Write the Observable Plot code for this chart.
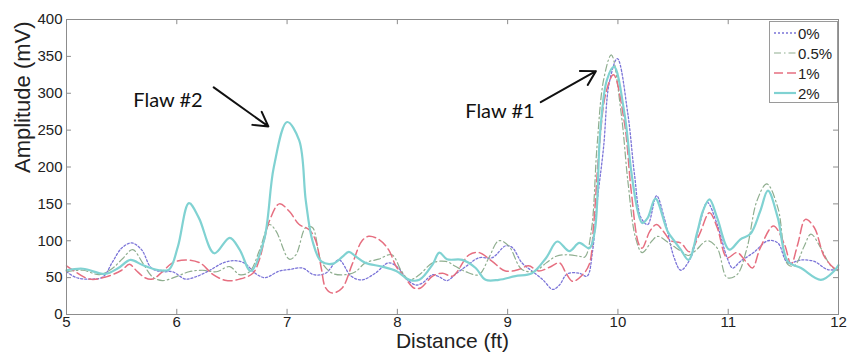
<!DOCTYPE html>
<html>
<head>
<meta charset="utf-8">
<script src="https://cdn.jsdelivr.net/npm/d3@7"></script>
<script src="https://cdn.jsdelivr.net/npm/@observablehq/plot@0.6"></script>
<style>
  html, body { margin: 0; padding: 0; background: #fff; }
  #wrap { position: relative; width: 853px; height: 358px; overflow: hidden; }
  #legend { position: absolute; left: 769px; top: 21px; width: 69px; height: 82px; box-sizing: border-box;
    border: 1px solid #9a9a9a; background: #fff; font-family: "Liberation Sans", Arial, sans-serif; font-size: 15px; color: #222; }
  #legend .row { position: absolute; left: 3px; height: 20px; display: flex; align-items: center; }
  #legend svg { display: block; }
</style>
</head>
<body>
<div id="wrap"><div id="legend"></div></div>
<script>
// ---- data (distance ft, amplitude mV) ----
const xTicks = [5, 6, 7, 8, 9, 10, 11, 12];
const yTicks = [0, 50, 100, 150, 200, 250, 300, 350, 400];
const seriesNames = ["0%", "0.5%", "1%", "2%"];

const s0 = [[5.0,58],[5.09,50],[5.21,48],[5.33,51],[5.42,72],[5.5,90],[5.59,97],[5.68,88],[5.77,63],[5.87,58],[5.96,58],[6.08,48],[6.17,51],[6.3,60],[6.42,70],[6.51,73],[6.61,70],[6.72,55],[6.8,50],[6.93,59],[7.02,61],[7.14,63],[7.24,54],[7.35,56],[7.47,74],[7.58,52],[7.68,47],[7.8,56],[7.92,70],[8.01,63],[8.09,47],[8.17,40],[8.23,43],[8.32,54],[8.38,51],[8.45,46],[8.53,55],[8.62,65],[8.74,77],[8.86,77],[8.98,93],[9.04,91],[9.13,70],[9.22,59],[9.32,47],[9.41,34],[9.47,40],[9.54,55],[9.65,56],[9.72,52],[9.77,86],[9.81,150],[9.87,227],[9.92,313],[9.995,347],[10.09,272],[10.15,190],[10.21,131],[10.27,122],[10.35,161],[10.42,131],[10.51,77],[10.57,60],[10.66,77],[10.74,122],[10.81,152],[10.9,122],[10.99,77],[11.04,63],[11.11,72],[11.23,84],[11.36,100],[11.45,97],[11.54,70],[11.66,74],[11.78,72],[11.9,61],[12.0,61]];

const s05 = [[5.0,58],[5.15,60],[5.3,54],[5.42,63],[5.51,76],[5.6,88],[5.69,70],[5.78,51],[5.87,46],[5.99,51],[6.11,58],[6.23,60],[6.36,58],[6.48,65],[6.57,54],[6.66,58],[6.75,87],[6.84,122],[6.9,113],[7.02,75],[7.08,81],[7.17,118],[7.23,118],[7.31,72],[7.41,56],[7.53,54],[7.62,58],[7.71,70],[7.83,75],[7.95,81],[8.04,58],[8.11,47],[8.2,54],[8.32,70],[8.44,72],[8.53,65],[8.62,58],[8.74,54],[8.83,77],[8.92,100],[9.01,93],[9.13,61],[9.25,59],[9.35,70],[9.44,79],[9.53,81],[9.65,79],[9.7,78],[9.76,115],[9.81,227],[9.87,318],[9.94,352],[10.03,272],[10.09,181],[10.16,104],[10.22,84],[10.31,100],[10.36,106],[10.48,95],[10.57,86],[10.64,80],[10.7,86],[10.81,100],[10.9,90],[10.99,50],[11.08,54],[11.17,90],[11.26,154],[11.35,177],[11.45,145],[11.54,68],[11.6,66],[11.69,93],[11.75,109],[11.84,90],[11.93,66],[12.0,59]];

const s1 = [[5.0,66],[5.06,60],[5.21,48],[5.36,51],[5.5,60],[5.57,68],[5.63,60],[5.71,50],[5.78,48],[5.87,58],[5.96,70],[6.08,74],[6.21,70],[6.33,54],[6.45,46],[6.57,48],[6.69,56],[6.75,75],[6.84,127],[6.93,150],[7.02,140],[7.11,122],[7.2,115],[7.26,100],[7.31,63],[7.35,36],[7.41,29],[7.5,36],[7.59,68],[7.68,100],[7.74,106],[7.83,102],[7.92,88],[7.99,65],[8.06,52],[8.15,36],[8.21,36],[8.32,52],[8.41,56],[8.5,52],[8.65,81],[8.74,84],[8.86,72],[8.98,59],[9.1,61],[9.19,66],[9.28,59],[9.38,64],[9.47,70],[9.53,56],[9.59,45],[9.68,54],[9.74,68],[9.78,122],[9.83,225],[9.89,300],[9.96,325],[10.06,259],[10.12,168],[10.19,95],[10.22,90],[10.29,113],[10.35,122],[10.41,113],[10.48,100],[10.57,97],[10.65,85],[10.74,109],[10.83,138],[10.9,118],[10.99,77],[11.08,84],[11.17,70],[11.22,63],[11.29,90],[11.41,120],[11.51,95],[11.57,68],[11.63,95],[11.7,129],[11.78,118],[11.87,79],[11.96,63],[12.0,61]];

const s2 = [[5.0,60],[5.15,62],[5.35,55],[5.47,63],[5.58,74],[5.69,67],[5.84,60],[5.93,61],[6.01,92],[6.11,151],[6.2,131],[6.34,83],[6.48,104],[6.57,88],[6.67,59],[6.79,100],[6.88,200],[7.0,261],[7.11,236],[7.17,154],[7.23,100],[7.31,72],[7.42,69],[7.5,78],[7.56,85],[7.62,79],[7.71,70],[7.86,65],[7.99,59],[8.11,47],[8.2,47],[8.32,68],[8.38,84],[8.45,75],[8.59,74],[8.71,63],[8.8,47],[8.92,47],[9.07,52],[9.22,56],[9.35,77],[9.45,99],[9.56,86],[9.65,97],[9.74,90],[9.79,113],[9.84,249],[9.9,318],[9.965,336],[10.06,272],[10.12,195],[10.18,140],[10.22,124],[10.27,131],[10.34,157],[10.45,113],[10.51,100],[10.57,88],[10.64,74],[10.72,112],[10.77,140],[10.83,156],[10.9,131],[11.01,88],[11.11,102],[11.2,109],[11.29,140],[11.36,168],[11.45,131],[11.54,72],[11.66,63],[11.84,47],[11.96,59],[12.0,67]];

const flawLabels = [{text: "Flaw #2", x: 5.92, y: 290}, {text: "Flaw #1", x: 8.93, y: 275}];
const flawArrows = [{x1: 6.335, y1: 308, x2: 6.83, y2: 255}, {x1: 9.3, y1: 288, x2: 9.8, y2: 330}];

// ---- styles per series ----
const styles = [
  {data: s0,  stroke: "#7b74d8", strokeWidth: 1.3, dash: "2,2"},
  {data: s05, stroke: "#8fae8f", strokeWidth: 1.2, dash: "7,3,1.5,3"},
  {data: s1,  stroke: "#e66f80", strokeWidth: 1.5, dash: "9,4"},
  {data: s2,  stroke: "#80d2d2", strokeWidth: 2.2, dash: null}
];

const lineMarks = styles.map(s => Plot.line(s.data, {
  x: d => d[0], y: d => d[1], stroke: s.stroke, strokeWidth: s.strokeWidth,
  strokeDasharray: s.dash, curve: "catmull-rom"
}));

const grey = "#8c8c8c";
const chart = Plot.plot({
  width: 853, height: 358,
  marginLeft: 66, marginRight: 15, marginTop: 19, marginBottom: 44,
  style: {fontFamily: "'Liberation Sans', Arial, sans-serif", fontSize: "15px", color: "#222", background: "transparent"},
  x: {domain: [5, 12]},
  y: {domain: [0, 400]},
  marks: [
    ...lineMarks,
    Plot.frame({stroke: grey}),
    Plot.ruleX(xTicks, {y1: 0, y2: 7, stroke: grey}),
    Plot.ruleX(xTicks, {y1: 393, y2: 400, stroke: grey}),
    Plot.ruleY(yTicks, {x1: 5, x2: 5.045, stroke: grey}),
    Plot.ruleY(yTicks, {x1: 11.955, x2: 12, stroke: grey}),
    Plot.axisX(xTicks, {tickSize: 0, tickPadding: 2, label: null, fontSize: 15}),
    Plot.axisY(yTicks, {tickSize: 0, tickPadding: 4, label: null, fontSize: 15}),
    Plot.text(["Distance (ft)"], {frameAnchor: "bottom", dy: 33, fontSize: 21, fill: "#222"}),
    Plot.text(["Amplitude (mV)"], {frameAnchor: "left", dx: -44, dy: 6, rotate: -90, fontSize: 22, fill: "#222"}),
    Plot.text(flawLabels, {x: "x", y: "y", text: "text", fontSize: 20, fontFamily: "Lato, 'Open Sans', sans-serif", fill: "#111"}),
    Plot.arrow(flawArrows, {x1: "x1", y1: "y1", x2: "x2", y2: "y2", stroke: "#111", strokeWidth: 2, headLength: 12})
  ]
});
document.getElementById("wrap").prepend(chart);

// ---- legend ----
const legend = document.getElementById("legend");
seriesNames.forEach((name, i) => {
  const s = styles[i];
  const row = document.createElement("div");
  row.className = "row";
  row.style.top = (1 + i * 20) + "px";
  row.innerHTML = `<svg width="24" height="20"><line x1="1" y1="10" x2="23" y2="10" stroke="${s.stroke}" stroke-width="${s.strokeWidth}" ${s.dash ? `stroke-dasharray="${s.dash}"` : ""}/></svg><span style="margin-left:1px">${name}</span>`;
  legend.appendChild(row);
});
</script>
</body>
</html>
